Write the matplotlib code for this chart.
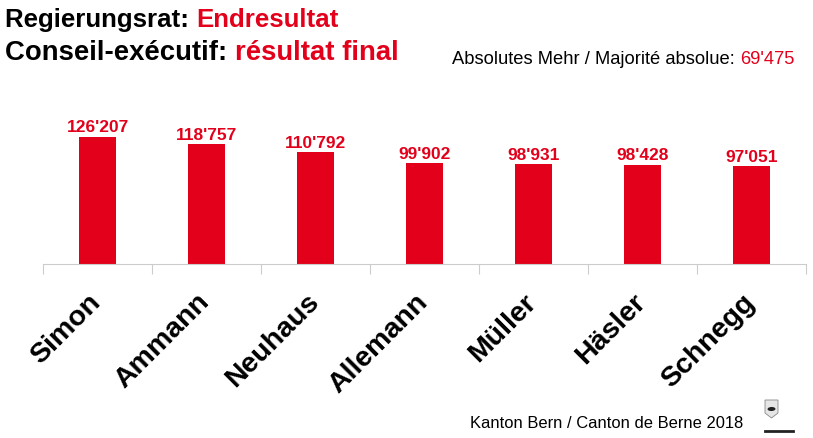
import matplotlib.pyplot as plt
import matplotlib.patches as mpatches

plt.rcParams['font.family'] = ['Liberation Sans', 'DejaVu Sans']

names = ['Simon', 'Ammann', 'Neuhaus', 'Allemann', 'Müller', 'Häsler', 'Schnegg']
votes = [126207, 118757, 110792, 99902, 98931, 98428, 97051]
labels = ["126'207", "118'757", "110'792", "99'902", "98'931", "98'428", "97'051"]

red = '#e2001a'
W, H = 813, 439

fig = plt.figure(figsize=(W / 100, H / 100), dpi=100)
ax = fig.add_axes([43/W, 174/H, 763/W, 165/H])

x = range(len(names))
ax.bar(x, votes, width=0.34, color=red)
for i, v in enumerate(votes):
    ax.text(i, v + 2500, labels[i], ha='center', va='bottom', color=red,
            fontsize=12.5, fontweight='bold')

ax.set_xlim(-0.5, len(names) - 0.5)
ax.set_ylim(0, 163500)
ax.set_yticks([])
for s in ['top', 'right', 'left']:
    ax.spines[s].set_visible(False)
ax.spines['bottom'].set_color('#cccccc')
ax.set_xticks([i - 0.5 for i in range(len(names) + 1)])
ax.set_xticklabels([])
ax.tick_params(axis='x', length=7, color='#cccccc')
for i, n in enumerate(names):
    ax.text(i - 0.09, -24000, n, rotation=45, ha='right', va='top',
            rotation_mode='anchor', fontsize=20.5, fontweight='bold',
            clip_on=False)


def two_tone(x0, y0, first, second, size, weight='normal'):
    t = fig.text(x0 / W, 1 - y0 / H, first, fontsize=size, fontweight=weight,
                 va='center', ha='left')
    fig.canvas.draw()
    bb = t.get_window_extent()
    fig.text(bb.x1 / W, 1 - y0 / H, second, fontsize=size, fontweight=weight,
             va='center', ha='left', color=red)


two_tone(5, 20, 'Regierungsrat: ', 'Endresultat', 18.6, 'bold')
two_tone(5, 53, 'Conseil-exécutif: ', 'résultat final', 19.8, 'bold')
two_tone(452, 59, 'Absolutes Mehr / Majorité absolue: ', "69'475", 13.2)

fig.text(470/W, 1 - 424/H, 'Kanton Bern / Canton de Berne 2018', fontsize=11.9,
         va='center', ha='left')

# small coat of arms mark
pts = [(765, 401), (778, 401), (778, 414), (771.5, 419), (765, 414)]
shield = mpatches.Polygon([(px / W, 1 - py / H) for px, py in pts], closed=True,
                          fc='#e6e6e6', ec='#888888', lw=0.6,
                          transform=fig.transFigure)
fig.patches.append(shield)
bear = mpatches.Ellipse((771.5 / W, 1 - 410 / H), 8 / W, 4 / H, angle=20,
                        fc='#222222', transform=fig.transFigure)
fig.patches.append(bear)
fig.lines.append(plt.Line2D([765 / W, 793 / W], [1 - 432 / H, 1 - 432 / H],
                            color='#222222', lw=2, transform=fig.transFigure))

fig.savefig('out.png', dpi=100)
